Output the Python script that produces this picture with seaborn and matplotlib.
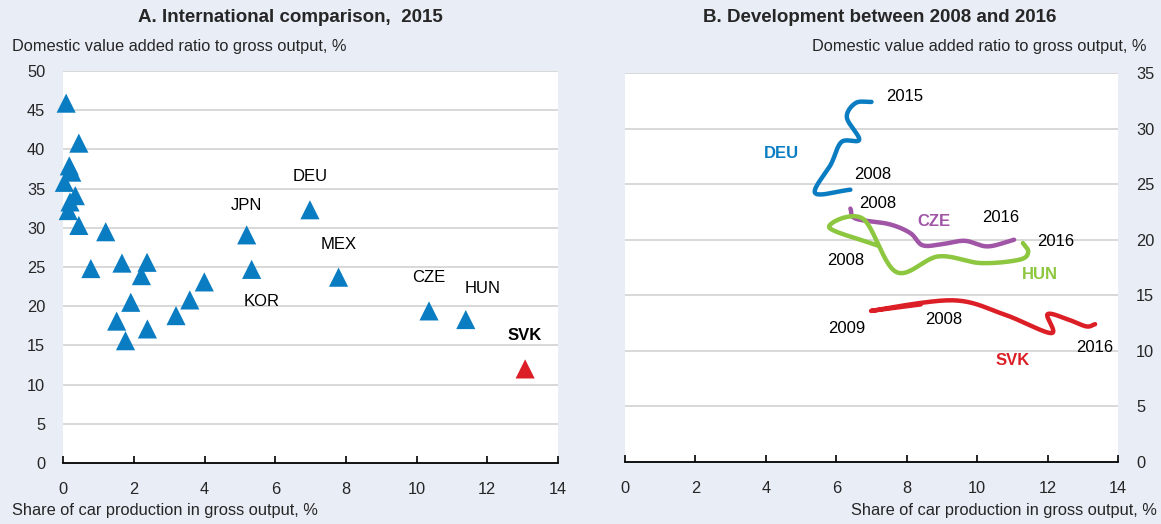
import numpy as np
import pandas as pd
import matplotlib
matplotlib.use("Agg")
import matplotlib.pyplot as plt
import seaborn as sns

# ---------------- data ----------------
# Panel A: international comparison 2015 (share of car production, domestic VA ratio)
a_x = [0.08, 0.44, 0.17, 0.24, 0.03, 0.34, 0.19, 0.14, 0.44, 1.20, 0.78, 1.66, 2.37,
       2.21, 1.91, 3.99, 3.58, 3.19, 1.51, 2.38, 1.76, 5.19, 5.33, 6.98, 7.79, 10.35,
       11.39, 13.07]
a_y = [45.9, 40.8, 37.9, 37.1, 35.8, 34.1, 33.3, 32.2, 30.3, 29.5, 24.8, 25.5, 25.6,
       23.9, 20.5, 23.1, 20.8, 18.8, 18.1, 17.1, 15.6, 29.1, 24.7, 32.3, 23.7, 19.4,
       18.3, 12.0]
a_group = ["other"] * 27 + ["SVK"]

a_lab_names = ["JPN", "DEU", "MEX", "KOR", "CZE", "HUN", "SVK"]
a_lab_x = [5.19, 6.98, 7.79, 5.60, 10.35, 11.87, 13.07]
a_lab_y = [32.9, 36.5, 27.9, 20.6, 23.6, 22.2, 16.3]

# Panel B: development 2008-2016 (yearly points)
deu_years = [2008, 2009, 2010, 2011, 2012, 2013, 2014, 2015]
deu_x = [6.40, 5.40, 5.85, 6.15, 6.65, 6.30, 6.55, 7.00]
deu_y = [24.5, 24.2, 26.8, 28.8, 29.0, 31.0, 32.3, 32.4]

cze_years = [2008, 2009, 2010, 2011, 2012, 2013, 2014, 2015, 2016]
cze_x = [6.40, 6.55, 7.50, 8.10, 8.45, 9.00, 9.65, 10.30, 11.05]
cze_y = [22.8, 21.9, 21.4, 20.6, 19.5, 19.6, 19.9, 19.4, 20.0]

hun_years = [2008, 2009, 2010, 2011, 2012, 2013, 2014, 2015, 2016]
hun_x = [7.15, 5.80, 6.75, 7.70, 8.90, 10.10, 11.20, 11.45, 11.30]
hun_y = [19.5, 21.1, 21.9, 17.1, 18.5, 17.9, 18.2, 18.9, 19.7]

svk_years = [2008, 2009, 2010, 2011, 2012, 2013, 2014, 2015, 2016]
svk_x = [8.40, 7.00, 9.30, 10.75, 12.10, 12.00, 12.60, 13.10, 13.35]
svk_y = [14.18, 13.6, 14.55, 13.3, 11.6, 13.3, 12.8, 12.2, 12.4]

b_text = ["2015", "2008", "2008", "2016", "2016", "2008", "2009", "2008", "2016"]
b_text_x = [7.95, 7.04, 7.18, 10.67, 12.23, 6.28, 6.30, 9.04, 13.35]
b_text_y = [32.9, 25.9, 23.3, 22.0, 19.8, 18.1, 12.05, 12.8, 10.3]

b_names = ["DEU", "CZE", "HUN", "SVK"]
b_name_x = [4.45, 8.78, 11.79, 11.01]
b_name_y = [27.8, 21.6, 16.9, 9.1]

x_ticks = [0, 2, 4, 6, 8, 10, 12, 14]
a_y_ticks = [0, 5, 10, 15, 20, 25, 30, 35, 40, 45, 50]
b_y_ticks = [0, 5, 10, 15, 20, 25, 30, 35]

# ---------------- style ----------------
BLUE = "#0A7CC1"
RED = "#DC1F26"
PURPLE = "#A155A6"
GREEN = "#8DC63F"
BG = "#E9EDF6"
GRID = "#D6D6D6"
FS = 11.8

sns.set_theme(style="white")
plt.rcParams["font.family"] = ["Liberation Sans", "DejaVu Sans"]
plt.rcParams["font.size"] = FS

fig = plt.figure(figsize=(11.61, 5.24), dpi=100, facecolor=BG)
axA = fig.add_axes([63.3 / 1161, 61 / 524, 494.7 / 1161, 392 / 524])
axB = fig.add_axes([625 / 1161, 62 / 524, 493 / 1161, 389 / 524])


def style_axes(ax, ymax, yticks, right=False):
    ax.set_facecolor("white")
    ax.set_xlim(0, 14)
    ax.set_ylim(0, ymax)
    ax.set_xticks(x_ticks)
    ax.set_xticklabels([str(t) for t in x_ticks])
    ax.set_yticks(yticks)
    ax.set_yticklabels([str(t) for t in yticks])
    for t in yticks[1:]:
        ax.axhline(t, color=GRID, lw=1.3, zorder=0)
    for s in ["top", "left", "right"]:
        ax.spines[s].set_visible(False)
    ax.spines["bottom"].set_color("black")
    ax.spines["bottom"].set_linewidth(1.3)
    ax.tick_params(axis="x", which="major", bottom=True, direction="in", length=5,
                   width=1.2, color="black", pad=14, labelsize=FS)
    ax.tick_params(axis="y", length=0, pad=13, labelsize=FS,
                   left=False, labelleft=not right,
                   right=False, labelright=right)
    ax.set_xlabel("")
    ax.set_ylabel("")


# ---------------- Panel A ----------------
dfA = pd.DataFrame({"x": a_x, "y": a_y, "group": a_group})
sns.scatterplot(data=dfA, x="x", y="y", hue="group",
                palette={"other": BLUE, "SVK": RED}, marker="^", s=190,
                linewidth=0, legend=False, ax=axA, zorder=3, clip_on=False)
for name, lx, ly in zip(a_lab_names, a_lab_x, a_lab_y):
    axA.text(lx, ly, name, ha="center", va="center", fontsize=12,
             fontweight="bold" if name == "SVK" else "normal", color="black")
style_axes(axA, 50, a_y_ticks)
fig.text(290 / 1161, 1 - 18 / 524, "A. International comparison,  2015",
         ha="center", va="center", fontsize=13.5, fontweight="bold")
fig.text(12 / 1161, 1 - 47 / 524, "Domestic value added ratio to gross output, %",
         ha="left", va="center", fontsize=FS)
fig.text(12 / 1161, 1 - 510 / 524, "Share of car production in gross output, %",
         ha="left", va="center", fontsize=FS)


# ---------------- Panel B ----------------
SX, SY = 35.2, 11.12  # approximate pixel per unit, used for smoothing in screen space


def smooth(xs, ys, n=24):
    p = np.column_stack([np.asarray(xs) * SX, np.asarray(ys) * SY])
    p = np.vstack([2 * p[0] - p[1], p, 2 * p[-1] - p[-2]])
    out = []
    for i in range(1, len(p) - 2):
        p0, p1, p2, p3 = p[i - 1], p[i], p[i + 1], p[i + 2]
        t = np.linspace(0, 1, n, endpoint=False)[:, None]
        seg = 0.5 * ((2 * p1) + (-p0 + p2) * t + (2 * p0 - 5 * p1 + 4 * p2 - p3) * t ** 2
                     + (-p0 + 3 * p1 - 3 * p2 + p3) * t ** 3)
        out.append(seg)
    out.append(p[-2][None, :])
    out = np.vstack(out)
    return out[:, 0] / SX, out[:, 1] / SY


for xs, ys, col in [(deu_x, deu_y, BLUE), (cze_x, cze_y, PURPLE),
                    (hun_x, hun_y, GREEN), (svk_x, svk_y, RED)]:
    sx, sy = smooth(xs, ys)
    sns.lineplot(x=sx, y=sy, sort=False, estimator=None, color=col, linewidth=3.2,
                 ax=axB, zorder=3)
    axB.lines[-1].set_solid_capstyle("round")
    axB.lines[-1].set_solid_joinstyle("round")

for t, tx, ty in zip(b_text, b_text_x, b_text_y):
    axB.text(tx, ty, t, ha="center", va="center", fontsize=12, color="black")
for name, nx, ny, col in zip(b_names, b_name_x, b_name_y, [BLUE, PURPLE, GREEN, RED]):
    axB.text(nx, ny, name, ha="center", va="center", fontsize=12,
             fontweight="bold", color=col)
style_axes(axB, 35, b_y_ticks, right=True)
fig.text(880 / 1161, 1 - 18 / 524, "B. Development between 2008 and 2016",
         ha="center", va="center", fontsize=13.5, fontweight="bold")
fig.text(1147 / 1161, 1 - 47 / 524, "Domestic value added ratio to gross output, %",
         ha="right", va="center", fontsize=FS)
fig.text(1157 / 1161, 1 - 510 / 524, "Share of car production in gross output, %",
         ha="right", va="center", fontsize=FS)

fig.savefig("out.png", dpi=100, facecolor=BG)
